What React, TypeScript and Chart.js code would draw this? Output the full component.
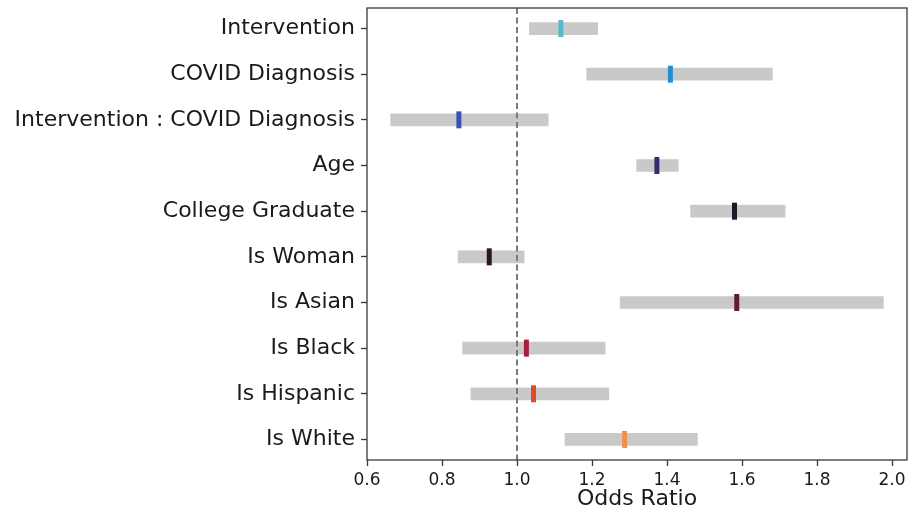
import React, { useEffect, useRef } from "react";
import { Chart, registerables } from "chart.js";

Chart.register(...registerables);

const labels = [
  "Intervention",
  "COVID Diagnosis",
  "Intervention : COVID Diagnosis",
  "Age",
  "College Graduate",
  "Is Woman",
  "Is Asian",
  "Is Black",
  "Is Hispanic",
  "Is White",
];
const lower = [1.033, 1.186, 0.663, 1.319, 1.463, 0.843, 1.275, 0.855, 0.877, 1.128];
const upper = [1.215, 1.681, 1.083, 1.43, 1.715, 1.019, 1.977, 1.235, 1.245, 1.481];
const oddsRatio = [1.117, 1.409, 0.845, 1.373, 1.58, 0.926, 1.586, 1.025, 1.044, 1.287];
const markerColors = [
  "#55b8cc",
  "#2290d4",
  "#3a50b6",
  "#372d6c",
  "#1d1a28",
  "#2b1424",
  "#5c1b38",
  "#a61d40",
  "#e0482a",
  "#f39048",
];
const xTicks = [0.6, 0.8, 1.0, 1.2, 1.4, 1.6, 1.8, 2.0];
const xMin = 0.6;
const xMax = 2.04;
const refLine = 1.0;

const FONT = "'DejaVu Sans', sans-serif";

export default function App() {
  const ref = useRef<HTMLCanvasElement | null>(null);

  useEffect(() => {
    document.body.style.margin = "0";
    if (!ref.current) return;

    const refLinePlugin = {
      id: "refLine",
      afterDatasetDraw(chart: any, args: any) {
        if (args.index !== 0) return;
        const { ctx, chartArea, scales } = chart;
        const x = scales.x.getPixelForValue(refLine);
        ctx.save();
        ctx.strokeStyle = "#7a7a7a";
        ctx.lineWidth = 2;
        ctx.setLineDash([6, 3.5]);
        ctx.beginPath();
        ctx.moveTo(x, chartArea.top);
        ctx.lineTo(x, chartArea.bottom);
        ctx.stroke();
        ctx.restore();
      },
      afterDraw(chart: any) {
        const { ctx, chartArea } = chart;
        ctx.save();
        ctx.strokeStyle = "#3a3a3a";
        ctx.lineWidth = 1.3;
        ctx.strokeRect(
          chartArea.left,
          chartArea.top,
          chartArea.right - chartArea.left,
          chartArea.bottom - chartArea.top
        );
        ctx.restore();
      },
    };

    const chart = new Chart(ref.current, {
      type: "bar",
      data: {
        datasets: [
          {
            type: "bar",
            data: labels.map((_, i) => ({ x: [lower[i], upper[i]], y: i })) as any,
            backgroundColor: "#c9c9c9",
            borderWidth: 0,
            barThickness: 12,
            grouped: false,
            order: 2,
          } as any,
          {
            type: "line",
            data: labels.map((_, i) => ({ x: oddsRatio[i], y: i })) as any,
            showLine: false,
            pointStyle: "line",
            pointRotation: 90,
            pointRadius: 8.5,
            pointHoverRadius: 8.5,
            pointBorderWidth: 5,
            pointHoverBorderWidth: 5,
            pointBorderColor: markerColors,
            pointBackgroundColor: markerColors,
            borderColor: markerColors,
            clip: false,
            order: 1,
          } as any,
        ],
      },
      options: {
        indexAxis: "y",
        animation: false,
        responsive: false,
        maintainAspectRatio: false,
        layout: { autoPadding: false, padding: { top: 8, right: 2, left: 0, bottom: 0 } },
        plugins: {
          legend: { display: false },
          tooltip: { enabled: false },
        },
        scales: {
          x: {
            type: "linear",
            min: xMin,
            max: xMax,
            offset: false,
            afterBuildTicks: (scale: any) => {
              scale.ticks = xTicks.map((v) => ({ value: v }));
            },
            afterFit: (scale: any) => {
              scale.height = 58;
              scale.paddingLeft = 0;
              scale.paddingRight = 0;
            },
            grid: {
              offset: false,
              drawOnChartArea: false,
              drawTicks: true,
              tickLength: 6,
              tickColor: "#3a3a3a",
              tickWidth: 1.3,
            },
            border: { display: false },
            ticks: {
              padding: 4,
              color: "#1a1a1a",
              font: { family: FONT, size: 17 },
              maxRotation: 0,
              autoSkip: false,
              callback: (v: any) => Number(v).toFixed(1),
            },
            title: {
              display: true,
              text: "Odds Ratio",
              color: "#1a1a1a",
              font: { family: FONT, size: 22 },
              padding: { top: 0, bottom: 6 },
            },
          },
          y: {
            type: "linear",
            reverse: true,
            offset: false,
            min: -0.45,
            max: labels.length - 1 + 0.45,
            afterBuildTicks: (scale: any) => {
              scale.ticks = labels.map((_, i) => ({ value: i }));
            },
            afterFit: (scale: any) => {
              scale.width = 367;
              scale.paddingTop = 0;
              scale.paddingBottom = 0;
            },
            grid: {
              offset: false,
              drawOnChartArea: false,
              drawTicks: true,
              tickLength: 6,
              tickColor: "#3a3a3a",
              tickWidth: 1.3,
            },
            border: { display: false },
            ticks: {
              padding: 6,
              color: "#1a1a1a",
              font: { family: FONT, size: 22 },
              autoSkip: false,
              callback: (v: any) => labels[v] ?? "",
            },
          },
        },
      } as any,
      plugins: [refLinePlugin],
    });

    return () => chart.destroy();
  }, []);

  return (
    <div style={{ width: 909, height: 518 }}>
      <canvas ref={ref} width={909} height={518} style={{ width: 909, height: 518 }} />
    </div>
  );
}
